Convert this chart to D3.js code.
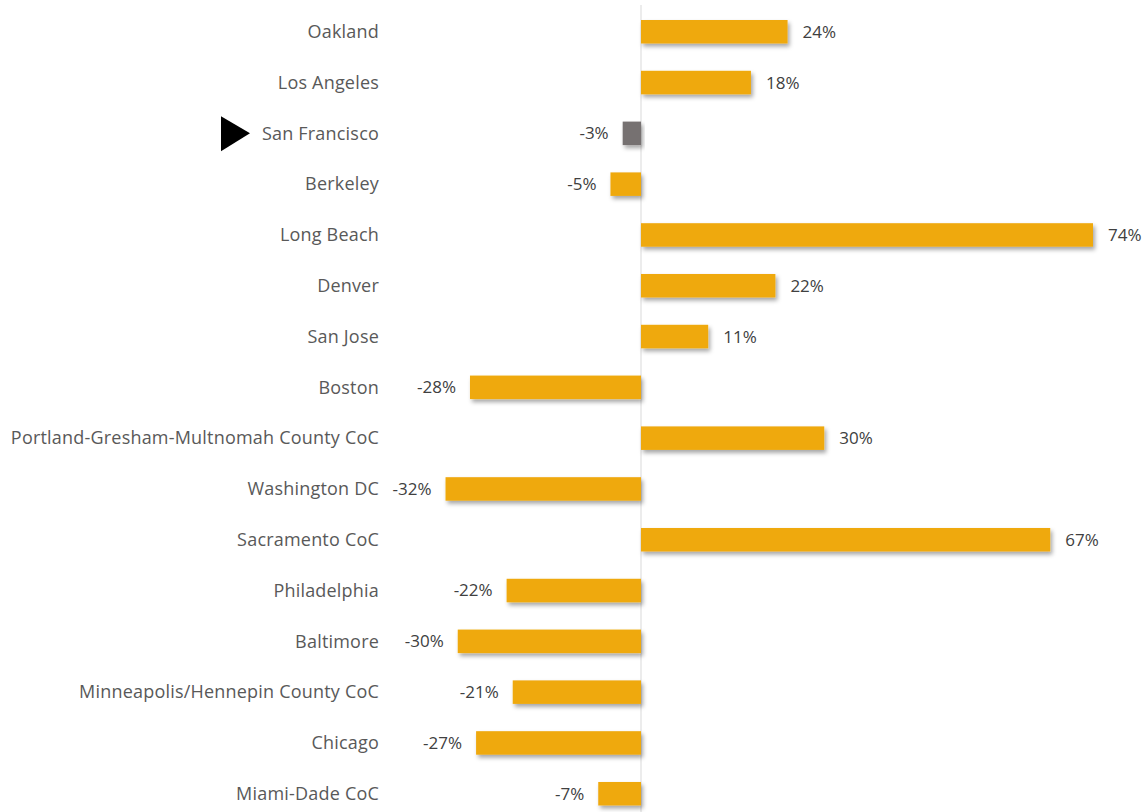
<!DOCTYPE html>
<html>
<head>
<meta charset="utf-8">
<script src="https://cdn.jsdelivr.net/npm/d3@7"></script>
<style>
  body { margin: 0; background: #fff; }
  text { font-family: "Open Sans", "Liberation Sans", sans-serif; }
</style>
</head>
<body>
<div id="chart"></div>
<script>
// data
var cities = ["Oakland", "Los Angeles", "San Francisco", "Berkeley", "Long Beach", "Denver", "San Jose",
  "Boston", "Portland-Gresham-Multnomah County CoC", "Washington DC", "Sacramento CoC", "Philadelphia",
  "Baltimore", "Minneapolis/Hennepin County CoC", "Chicago", "Miami-Dade CoC"];
var changes = [24, 18, -3, -5, 74, 22, 11, -28, 30, -32, 67, -22, -30, -21, -27, -7];
var highlight = "San Francisco";

var width = 1146, height = 812;

var x = d3.scaleLinear().domain([0, 74]).range([641, 1093]);
var y = d3.scaleBand().domain(cities).range([20, 805.5]).paddingInner(0.537).paddingOuter(0);

var svg = d3.select("#chart").append("svg")
    .attr("width", width)
    .attr("height", height);

var defs = svg.append("defs");
var f = defs.append("filter").attr("id", "shadow").attr("x", "-10%").attr("y", "-50%").attr("width", "130%").attr("height", "250%");
f.append("feDropShadow").attr("dx", 2).attr("dy", 3).attr("stdDeviation", 2)
    .attr("flood-color", "#000").attr("flood-opacity", 0.35);

// zero line
svg.append("line")
    .attr("x1", x(0)).attr("x2", x(0))
    .attr("y1", 5).attr("y2", height)
    .style("stroke", "#d9d9d9").style("stroke-width", 1);

var data = cities.map(function(c, i) { return {city: c, v: changes[i]}; });

svg.selectAll(".bar")
    .data(data)
  .enter().append("rect")
    .attr("class", "bar")
    .attr("x", function(d) { return x(Math.min(0, d.v)); })
    .attr("width", function(d) { return Math.abs(x(d.v) - x(0)); })
    .attr("y", function(d) { return y(d.city); })
    .attr("height", y.bandwidth())
    .style("fill", function(d) { return d.city == highlight ? "#767171" : "#EFA90E"; })
    .attr("filter", "url(#shadow)");

// value labels
svg.selectAll(".val")
    .data(data)
  .enter().append("text")
    .attr("class", "val")
    .attr("x", function(d) { return d.v >= 0 ? x(d.v) + 15 : x(d.v) - 14; })
    .attr("y", function(d) { return y(d.city) + y.bandwidth() / 2; })
    .attr("dy", "0.35em")
    .style("text-anchor", function(d) { return d.v >= 0 ? "start" : "end"; })
    .style("font-size", "17px")
    .style("fill", "#404040")
    .text(function(d) { return d.v + "%"; });

// category labels
svg.selectAll(".cat")
    .data(data)
  .enter().append("text")
    .attr("class", "cat")
    .attr("x", 379)
    .attr("y", function(d) { return y(d.city) + y.bandwidth() / 2; })
    .attr("dy", "0.35em")
    .style("text-anchor", "end")
    .style("font-size", "18px")
    .style("letter-spacing", "0.2px")
    .style("fill", "#595959")
    .text(function(d) { return d.city; });

// marker for highlighted city
var hy = y(highlight) + y.bandwidth() / 2;
svg.append("path")
    .attr("d", "M221," + (hy - 17) + "L250," + hy + "L221," + (hy + 18) + "Z")
    .style("fill", "#000");
</script>
</body>
</html>
